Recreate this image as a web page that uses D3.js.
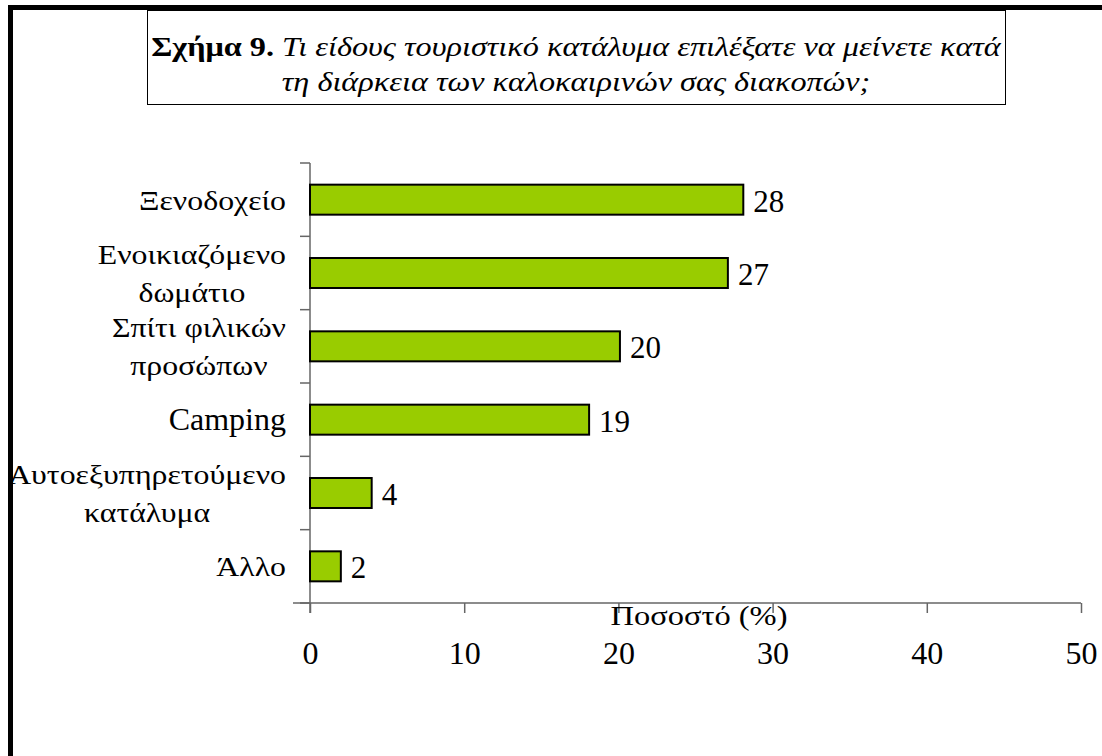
<!DOCTYPE html>
<html>
<head>
<meta charset="utf-8">
<script src="https://cdn.jsdelivr.net/npm/d3@7"></script>
<style>
  body { margin: 0; background: #fff; }
</style>
</head>
<body>
<script>
// data
var categories = [
    ["Ξενοδοχείο"],
    ["Ενοικιαζόμενο", "δωμάτιο"],
    ["Σπίτι φιλικών", "προσώπων"],
    ["Camping"],
    ["Αυτοεξυπηρετούμενο", "κατάλυμα"],
    ["Άλλο"]
];
var values = [28.1, 27.1, 20.1, 18.1, 4, 2];
var valueLabels = ["28", "27", "20", "19", "4", "2"];
var xTicks = [0, 10, 20, 30, 40, 50];
var axisTitle = "Ποσοστό (%)";
var titleBold = "Σχήμα 9.";
var titleLine1 = " Τι είδους τουριστικό κατάλυμα επιλέξατε να μείνετε κατά";
var titleLine2 = "τη διάρκεια των καλοκαιρινών σας διακοπών;";

var FONT = "'Liberation Serif', 'DejaVu Serif', serif";

var width = 1102,
    height = 756;

var svg = d3.select("body")
    .append("svg")
    .attr("width", width)
    .attr("height", height);

// measure a text's natural width
function measure(str, size){
    var t = svg.append("text")
        .attr("font-family", FONT).attr("font-size", size)
        .text(str);
    var w = t.node().getComputedTextLength();
    t.remove();
    return w;
}

// the Greek of the original is set a little wider; fit it
var greekSize = 28;
var greekK = 147 / measure("Ξενοδοχείο", greekSize);

// thick frame on top and left
svg.append("rect").attr("x", 8).attr("y", 5).attr("width", width - 8).attr("height", 5).attr("fill", "#000");
svg.append("rect").attr("x", 8).attr("y", 5).attr("width", 5).attr("height", height - 5).attr("fill", "#000");

// title box
svg.append("rect")
    .attr("x", 147.5).attr("y", 10.5)
    .attr("width", 858).attr("height", 94)
    .attr("fill", "none").attr("stroke", "#000").attr("stroke-width", 1);

var titleSize = 27;
var tg1 = svg.append("g");
var t1 = tg1.append("text")
    .attr("text-anchor", "middle")
    .attr("font-family", FONT)
    .attr("font-size", titleSize);
t1.append("tspan").attr("font-weight", "bold").text(titleBold);
t1.append("tspan").attr("font-style", "italic").text(titleLine1);
var titleK = 850 / t1.node().getComputedTextLength();
tg1.attr("transform", "translate(576,56) scale(" + titleK + ",1)");

svg.append("g").attr("transform", "translate(576,91) scale(" + titleK + ",1)")
    .append("text")
    .attr("text-anchor", "middle")
    .attr("font-family", FONT)
    .attr("font-style", "italic")
    .attr("font-size", titleSize)
    .text(titleLine2);

// scales
var x = d3.scaleLinear()
    .domain([0, 50])
    .range([310, 1081]);

var y = d3.scaleBand()
    .domain(d3.range(categories.length))
    .range([163, 603])
    .padding(0);

var barH = 30;
var axisColor = "#666";

// y axis line and ticks between categories
svg.append("line")
    .attr("x1", x(0)).attr("x2", x(0))
    .attr("y1", y.range()[0]).attr("y2", y.range()[1] + 10)
    .attr("stroke", axisColor).attr("stroke-width", 1.5);

var bounds = y.domain().map(function(d){ return y(d); }).concat([y.range()[1]]);
svg.selectAll(".ytick")
    .data(bounds)
    .enter()
    .append("line")
    .attr("class", "ytick")
    .attr("x1", x(0) - 10).attr("x2", x(0))
    .attr("y1", function(d){ return d; })
    .attr("y2", function(d){ return d; })
    .attr("stroke", axisColor).attr("stroke-width", 1.5);

// x axis
var xAxis = svg.append("g")
    .attr("transform", "translate(0," + y.range()[1] + ")")
    .call(d3.axisBottom(x).tickValues(xTicks).tickSize(10).tickPadding(28).tickSizeOuter(0));
xAxis.attr("font-family", FONT).attr("font-size", 32);
xAxis.select(".domain")
    .attr("d", "M" + (x(0) - 17) + ",0H" + x(50))
    .attr("stroke", axisColor).attr("stroke-width", 1.5);
xAxis.selectAll(".tick line").attr("stroke", axisColor).attr("stroke-width", 1.5);
xAxis.selectAll(".tick text").attr("fill", "#000");

// bars
svg.selectAll(".bar")
    .data(values)
    .enter()
    .append("rect")
    .attr("class", "bar")
    .attr("x", x(0))
    .attr("y", function(d, i){ return y(i) + (y.bandwidth() - barH) / 2; })
    .attr("width", function(d){ return x(d) - x(0); })
    .attr("height", barH)
    .attr("fill", "#99cc00")
    .attr("stroke", "#000")
    .attr("stroke-width", 2);

// value labels
svg.selectAll(".vlabel")
    .data(values)
    .enter()
    .append("text")
    .attr("class", "vlabel")
    .attr("x", function(d){ return x(d) + 10; })
    .attr("y", function(d, i){ return y(i) + y.bandwidth() / 2 + 12; })
    .attr("font-family", FONT)
    .attr("font-size", 31)
    .text(function(d, i){ return valueLabels[i]; });

// category labels: block right aligned, lines centered on each other
categories.forEach(function(lines, i){
    var latin = /^[A-Za-z ]+$/.test(lines.join(""));
    var size = latin ? 32 : greekSize;
    var k = latin ? 1 : greekK;
    var lineH = 38;
    var cy = y(i) + y.bandwidth() / 2;
    var maxW = d3.max(lines, function(l){ return measure(l, size); });
    var g = svg.append("g")
        .attr("transform", "translate(286," + cy + ") scale(" + k + ",1)");
    lines.forEach(function(l, j){
        g.append("text")
            .attr("x", -maxW / 2)
            .attr("y", (j - (lines.length - 1) / 2) * lineH + 10)
            .attr("text-anchor", "middle")
            .attr("font-family", FONT)
            .attr("font-size", size)
            .text(l);
    });
});

// axis title
var axK = 177 / measure(axisTitle, greekSize);
svg.append("g")
    .attr("transform", "translate(699,625) scale(" + axK + ",1)")
    .append("text")
    .attr("text-anchor", "middle")
    .attr("font-family", FONT)
    .attr("font-size", greekSize)
    .text(axisTitle);
</script>
</body>
</html>
